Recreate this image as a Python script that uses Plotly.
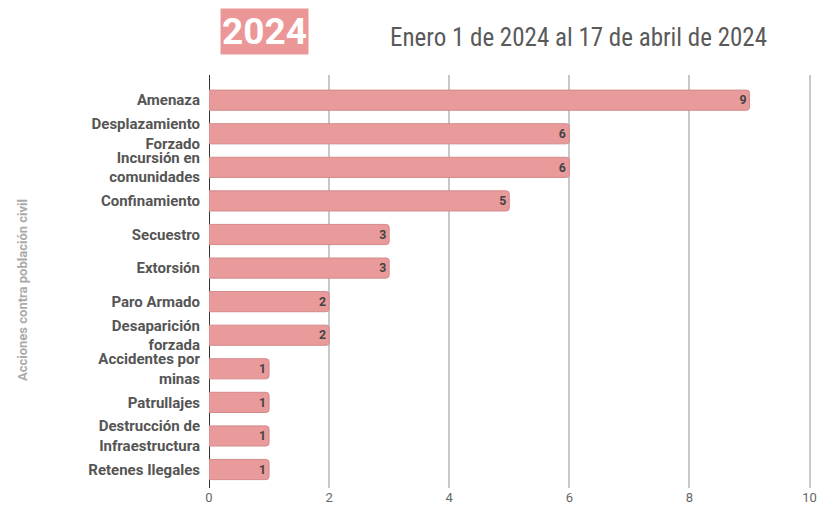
import plotly.graph_objects as go

categories = ["Amenaza", "Desplazamiento<br>Forzado", "Incursión en<br>comunidades", "Confinamiento",
              "Secuestro", "Extorsión", "Paro Armado", "Desaparición<br>forzada",
              "Accidentes por<br>minas", "Patrullajes", "Destrucción de<br>Infraestructura", "Retenes Ilegales"]
values = [9, 6, 6, 5, 3, 3, 2, 2, 1, 1, 1, 1]
x_ticks = [0, 2, 4, 6, 8, 10]

W, H = 817, 513
L, T = 209, 75
R = W - L - 603
B = H - 488
pw, ph = W - L - R, H - T - B

def px_x(v):
    return (v - L) / pw

def px_y(v):
    return (H - B - v) / ph

fig = go.Figure(go.Bar(
    x=values, y=categories, orientation="h", width=0.6,
    marker=dict(color="#E99A9A", line=dict(color="#D48A8A", width=1), cornerradius=3),
    text=values, textposition="inside", insidetextanchor="end", textangle=0,
    textfont=dict(family="Roboto", size=13, color="#444", weight="bold"),
))

fig.update_layout(
    width=W, height=H,
    margin=dict(l=L, r=R, t=T, b=B, autoexpand=False),
    plot_bgcolor="white", paper_bgcolor="white",
    showlegend=False,
    xaxis=dict(range=[0, 10.04], tickvals=x_ticks, showgrid=True, gridcolor="#C8C8C8", gridwidth=1.5,
               zeroline=True, zerolinecolor="#333", zerolinewidth=1, automargin=False,
               ticklabeloverflow="allow",
               tickfont=dict(family="Roboto", size=13, color="#666"), ticks=""),
    yaxis=dict(autorange=False, range=[11.55, -0.75], type="category", automargin=False,
               tickfont=dict(family="Roboto", size=15, color="#555", weight="bold"),
               ticks="", ticklabelstandoff=8),
    annotations=[
        dict(text="<b>2024</b>", x=px_x(264.5), y=px_y(31.5), xref="paper", yref="paper", showarrow=False,
             xanchor="center", yanchor="middle",
             font=dict(family="Roboto", size=37, color="white"),
             bgcolor="#EC9797", borderpad=1),
        dict(text="Enero 1 de 2024 al 17 de abril de 2024", x=px_x(578), y=px_y(38),
             xref="paper", yref="paper", showarrow=False, xanchor="center", yanchor="middle",
             font=dict(family="Roboto Condensed, Roboto", size=25, color="#5A5A5A")),
        dict(text="<b>Acciones contra población civil</b>", x=px_x(22), y=px_y(290),
             xref="paper", yref="paper", showarrow=False, xanchor="center", yanchor="middle",
             textangle=-90, font=dict(family="Roboto", size=13, color="#AAA")),
    ],
)

fig.write_html("out.html", config={"displayModeBar": False},
               post_script="document.body.style.margin='0';document.body.style.overflow='hidden';")
